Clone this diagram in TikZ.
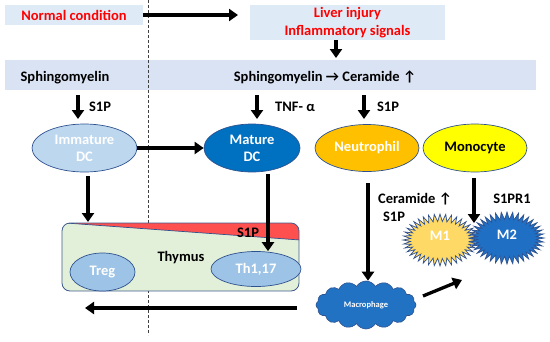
\documentclass[tikz,border=0pt]{standalone}
\usepackage{fontspec}
\setmainfont{Carlito}
\usetikzlibrary{shapes.geometric,shapes.symbols,arrows.meta}
\definecolor{boxblue}{HTML}{DEEBF7}
\definecolor{bandblue}{HTML}{DAE3F3}
\definecolor{redtxt}{HTML}{FF0000}
\definecolor{immblue}{HTML}{BDD7EE}
\definecolor{matblue}{HTML}{0070C0}
\definecolor{neutor}{HTML}{FFC000}
\definecolor{monoyel}{HTML}{FFFF00}
\definecolor{thygreen}{HTML}{E2F0D9}
\definecolor{trired}{HTML}{FF5050}
\definecolor{tcell}{HTML}{9DC3E6}
\definecolor{macblue}{HTML}{2272C3}
\definecolor{mone}{HTML}{FFD966}
\definecolor{mtwo}{HTML}{1F6FC4}
\definecolor{edgeblue}{HTML}{2F528F}
\begin{document}
\begin{tikzpicture}[x=1pt,y=-1pt,
  font=\bfseries\fontsize{14.5}{17}\selectfont,
  arr/.style={line width=3.3pt,-{Triangle[length=9pt,width=12pt]}},
  cell/.style={ellipse,draw=edgeblue,line width=0.7pt,inner sep=0pt,align=center},
  lbl/.style={inner sep=0pt,anchor=center},
  burst/.style={starburst,starburst points=40,starburst point height=7.5pt,random starburst=0,draw=edgeblue,line width=0.7pt,inner sep=0pt,minimum width=74pt,minimum height=52pt,text=white}]
\useasboundingbox (0,0) rectangle (550,341);
% top boxes
\node[fill=boxblue,minimum width=138pt,minimum height=20pt,inner sep=0pt,text=redtxt] (normal) at (74,15) {Normal condition};
\node[fill=boxblue,minimum width=195pt,minimum height=35pt,inner sep=0pt,text=redtxt,align=center,font=\bfseries\fontsize{14.5}{18}\selectfont] (liver) at (347.5,22.5) {Liver injury\\Inflammatory signals};
\node[fill=bandblue,minimum width=531pt,minimum height=30pt,inner sep=0pt] (band) at (270.5,75) {};
\node[lbl] (sph) at (65,78) {Sphingomyelin};
\node[lbl] (sphc) at (325,77) {Sphingomyelin → Ceramide ↑};
% dashed divider
\coordinate (dtop) at (148,0);
\coordinate (dbot) at (148,335);
\draw[densely dashed,line width=0.8pt,black!75] (dtop) -- (dbot);
% arrows top
\draw[arr] (normal.east) -- (238,15) coordinate (liverin);
\draw[arr] (liver.south -| 336,0) coordinate (lvs) -- (336,58) coordinate (bandtop);
% cells
\node[cell,fill=immblue,text=white,minimum width=105pt,minimum height=48pt] (imm) at (84.5,148) {Immature\\DC};
\node[cell,fill=matblue,text=white,minimum width=96pt,minimum height=48pt] (mat) at (252,148) {Mature\\DC};
\node[cell,fill=neutor,text=white,minimum width=104pt,minimum height=47pt] (neu) at (367,148) {Neutrophil};
\node[cell,fill=monoyel,text=black,minimum width=104pt,minimum height=48pt] (mono) at (475,148) {Monocyte};
% band to cells
\draw[arr] (78,95) coordinate (b1) -- (78,119);
\node[lbl] (s1pa) at (100,107) {S1P};
\draw[arr] (257,95) coordinate (b2) -- (257,119);
\node[lbl] (tnf) at (295,107) {TNF- α};
\draw[arr] (364,95) coordinate (b3) -- (364,119);
\node[lbl] (s1pb) at (388,107) {S1P};
\draw[arr] (imm.east) -- (mat.west);
% thymus
\coordinate (thyA) at (62,223);
\coordinate (thyB) at (299,291);
\begin{scope}
  \clip[rounded corners=8pt] (thyA) rectangle (thyB);
  \fill[thygreen] (thyA) rectangle (thyB);
  \fill[trired] (66,223) -- (300,223) -- (300,240) -- cycle;
  \draw[edgeblue,line width=0.7pt] (66,223) -- (300,240);
\end{scope}
\draw[edgeblue!80!gray,line width=0.8pt,rounded corners=8pt] (thyA) rectangle (thyB);
\node[lbl] (s1pt) at (248,233) {S1P};
\node[lbl] (thy) at (181,258) {Thymus};
\node[cell,fill=tcell,text=white,minimum width=65pt,minimum height=38pt] (treg) at (102.5,272) {Treg};
\node[cell,fill=tcell,text=white,minimum width=90pt,minimum height=35pt] (th) at (256,269) {Th1,17};
\draw[arr] (88,176) coordinate (i1) -- (88,222);
\draw[arr] (268,174) coordinate (m1) -- (th.north -| 268,0);
\draw[arr] (297,308) coordinate (backs) -- (85,308) coordinate (backe);
% right side
\node[cloud,cloud puffs=16,cloud puff arc=120,aspect=2.1,draw=edgeblue,line width=0.6pt,fill=macblue,text=white,minimum width=100pt,minimum height=48pt,inner sep=0pt,font=\bfseries\fontsize{8.5}{9}\selectfont] (mac) at (366,305) {Macrophage};
\draw[arr] (368,183) coordinate (n1) -- (mac.north -| 368,0);
\node[lbl] (cer) at (415,199) {Ceramide ↑};
\node[lbl] (s1pc) at (394,217) {S1P};
\node[burst,fill=mone] (mo) at (440,240) {};
\node[burst,fill=mtwo] (mt) at (507,238) {};
\node[lbl,text=white] at (440,236) {M1};
\node[lbl,text=white] at (507,235) {M2};
\draw[arr] (474,178) coordinate (mo1) -- (474,223);
\node[lbl] (s1pr) at (512,199) {S1PR1};
\draw[arr] (423,296) coordinate (ma1) -- (462,280) coordinate (ma2);
\end{tikzpicture}
\end{document}
